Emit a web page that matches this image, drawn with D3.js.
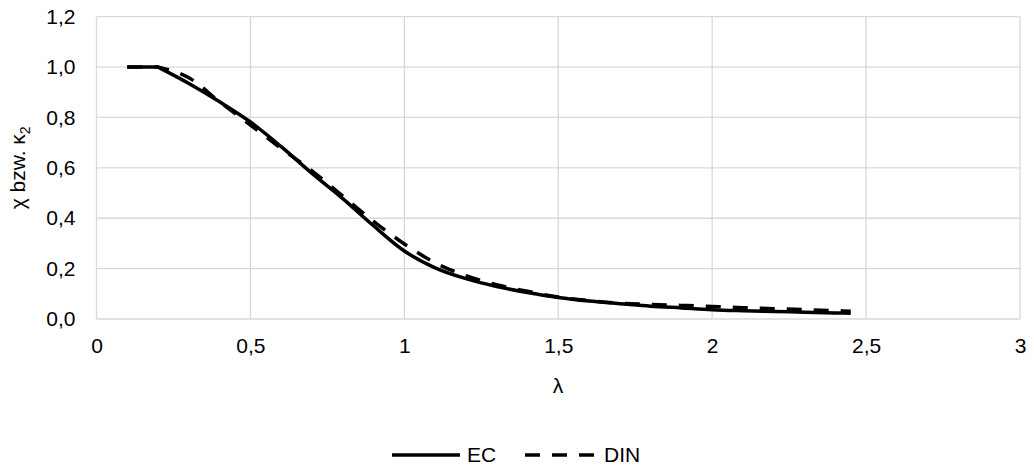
<!DOCTYPE html>
<html>
<head>
<meta charset="utf-8">
<script src="https://cdn.jsdelivr.net/npm/d3@7"></script>
<style>
  html, body { margin: 0; padding: 0; background: #fff; }
  svg { display: block; }
  text { font-family: Arial, "Liberation Sans", sans-serif; fill: #000; }
</style>
</head>
<body>
<svg id="chart" width="1034" height="470"></svg>
<script>
// Slenderness values λ shared by both curves
const lambda = [0.1, 0.2, 0.3, 0.4, 0.5, 0.6, 0.7, 0.8, 0.9, 1.0, 1.1, 1.2, 1.3,
                1.4, 1.5, 1.6, 1.7, 1.8, 1.9, 2.0, 2.1, 2.2, 2.3, 2.4, 2.45];
// Reduction factor χ (EC)
const ecValues = [1.000, 1.000, 0.935, 0.862, 0.782, 0.684, 0.578, 0.478, 0.370, 0.270,
                  0.203, 0.160, 0.129, 0.105, 0.085, 0.071, 0.061, 0.051, 0.044, 0.037,
                  0.033, 0.030, 0.027, 0.024, 0.023];
// Reduction factor κ2 (DIN)
const dinValues = [1.000, 1.000, 0.958, 0.862, 0.770, 0.677, 0.588, 0.488, 0.388, 0.298,
                   0.223, 0.172, 0.136, 0.110, 0.087, 0.073, 0.063, 0.058, 0.054, 0.050,
                   0.045, 0.041, 0.037, 0.033, 0.031];
const xTicks = [0, 0.5, 1, 1.5, 2, 2.5, 3];
const yTicks = [0, 0.2, 0.4, 0.6, 0.8, 1.0, 1.2];
const seriesNames = ["EC", "DIN"];

const FONT = 21;
const svg = d3.select("#chart");
const fmtX = v => String(v).replace(".", ",");
const fmtY = v => v.toFixed(1).replace(".", ",");

const x = d3.scaleLinear().domain([0, 3]).range([96.5, 1020]);
const y = d3.scaleLinear().domain([0, 1.2]).range([319, 16.7]);

// Gridlines (horizontal and vertical)
const grid = svg.append("g");
grid.selectAll("line.h").data(yTicks).enter().append("line")
  .attr("x1", x(0)).attr("x2", x(3))
  .attr("y1", d => y(d)).attr("y2", d => y(d))
  .attr("stroke", "#d9d9d9").attr("stroke-width", 1.3);
grid.selectAll("line.v").data(xTicks).enter().append("line")
  .attr("x1", d => x(d)).attr("x2", d => x(d))
  .attr("y1", y(0)).attr("y2", y(1.2))
  .attr("stroke", "#d9d9d9").attr("stroke-width", 1.3);

// Axes with tick labels only
const xAxis = d3.axisBottom(x).tickValues(xTicks).tickFormat(fmtX).tickSize(0).tickPadding(19);
const gx = svg.append("g").attr("transform", `translate(0,${y(0)})`).call(xAxis);
const yAxis = d3.axisLeft(y).tickValues(yTicks).tickFormat(fmtY).tickSize(0).tickPadding(21);
const gy = svg.append("g").attr("transform", `translate(${x(0)},0)`).call(yAxis);
[gx, gy].forEach(g => {
  g.select(".domain").remove();
  g.selectAll("text").attr("font-size", FONT).attr("font-family", "Arial, 'Liberation Sans', sans-serif").attr("fill", "#000");
});

// Curves: straight plateau up to λ = 0.2, smooth descent afterwards
const smooth = d3.line()
  .x(d => x(d[0]))
  .y(d => y(d[1]))
  .curve(d3.curveMonotoneX);
function curvePath(values) {
  const pts = lambda.map((l, i) => [l, values[i]]);
  const head = `M${x(pts[0][0])},${y(pts[0][1])}`;
  const tail = smooth(pts.slice(1)).replace(/^M/, "L");
  return head + tail;
}

svg.append("path")
  .attr("d", curvePath(ecValues)).attr("fill", "none")
  .attr("stroke", "#000").attr("stroke-width", 3.5);
svg.append("path")
  .attr("d", curvePath(dinValues)).attr("fill", "none")
  .attr("stroke", "#000").attr("stroke-width", 3.5)
  .attr("stroke-dasharray", "15,12");

// Axis titles
svg.append("text").attr("x", 558).attr("y", 393)
  .attr("text-anchor", "middle").attr("font-size", FONT).text("λ");
const yt = svg.append("text")
  .attr("transform", `translate(25,${(y(0) + y(1.2)) / 2}) rotate(-90)`)
  .attr("text-anchor", "middle").attr("font-size", FONT);
yt.append("tspan").text("χ bzw. κ");
yt.append("tspan").attr("font-size", 14).attr("dy", 5).text("2");

// Legend
const legend = svg.append("g");
const legendItems = [
  { name: seriesNames[0], x1: 392, x2: 460, dash: null },
  { name: seriesNames[1], x1: 525, x2: 597, dash: "15,12" }
];
legendItems.forEach(it => {
  legend.append("line")
    .attr("x1", it.x1).attr("x2", it.x2).attr("y1", 455).attr("y2", 455)
    .attr("stroke", "#000").attr("stroke-width", 3.5)
    .attr("stroke-dasharray", it.dash);
  legend.append("text").attr("x", it.x2 + 7).attr("y", 462)
    .attr("font-size", FONT).text(it.name);
});
</script>
</body>
</html>
